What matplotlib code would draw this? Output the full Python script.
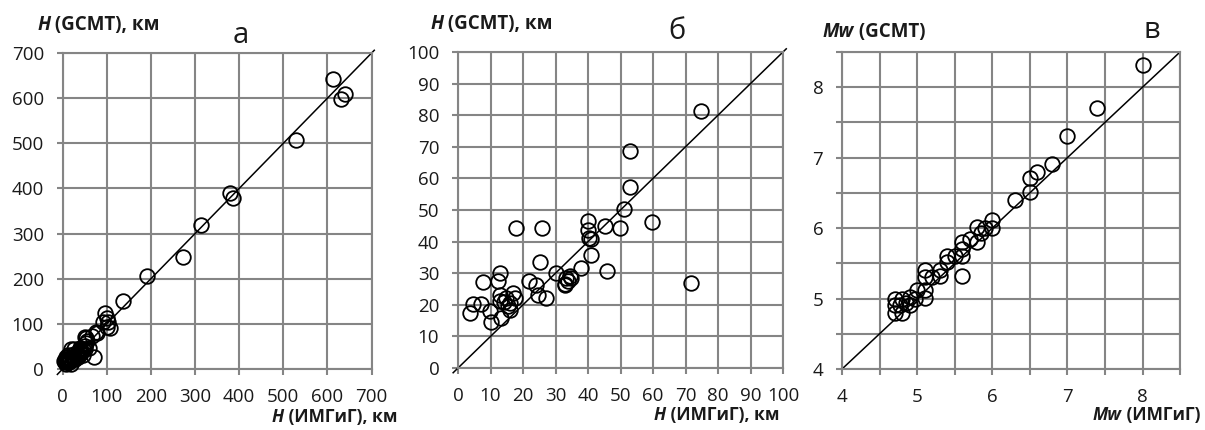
import matplotlib
matplotlib.use('Agg')
import matplotlib.pyplot as plt
from matplotlib.ticker import MultipleLocator

plt.rcParams['font.family'] = ['Open Sans', 'DejaVu Sans']

# ---- data ----
# shallow events, H in km (ИМГиГ, GCMT) - panel б, also part of panel а
h_img_shallow = [3.6, 4.6, 7.2, 7.7, 10.1, 9.7, 12.3, 12.8, 12.8, 12.8, 13.3, 14.9, 15.4,
                 15.9, 16.9, 17.4, 16.0, 14.0, 17.9, 21.8, 24.1, 24.6, 25.1, 25.9, 27.0,
                 30.0, 32.8, 33.3, 33.8, 34.4, 34.9, 33.0, 37.9, 40.0, 40.0, 40.3, 41.0,
                 41.0, 45.1, 45.9, 49.9, 51.0, 52.8, 53.0, 59.8, 71.8, 74.9]
h_gcmt_shallow = [17.4, 20.3, 20.3, 27.1, 14.7, 17.9, 27.6, 30.0, 23.2, 21.1, 15.8, 22.1, 19.5,
                  20.5, 23.7, 22.1, 18.5, 21.0, 44.2, 27.6, 26.3, 23.2, 33.4, 44.2, 22.3,
                  30.2, 26.3, 28.4, 27.4, 29.2, 28.4, 26.5, 31.6, 46.6, 43.7, 41.1, 40.7,
                  35.8, 44.9, 30.8, 44.4, 50.2, 57.4, 68.8, 46.3, 27.0, 81.3]

# deeper events, only in panel а
h_img_deep = [5, 8, 10, 20, 50, 55, 66, 77, 92, 96, 103, 100, 107, 100, 137, 190,
              273, 313, 380, 386, 528, 613, 640, 630]
h_gcmt_deep = [15, 12, 18, 10, 70, 61, 72, 80, 105, 124, 105, 94, 91, 112, 150, 205,
               247, 318, 390, 378, 507, 642, 610, 598]

# magnitudes Mw (ИМГиГ, GCMT) - panel в
mw_img = [8.0, 7.4, 7.0, 6.8, 6.6, 6.5, 6.5, 6.3, 6.0, 6.0, 5.9, 5.8, 5.85, 5.8, 5.7,
          5.6, 5.6, 5.6, 5.5, 5.4, 5.4, 5.6, 5.3, 5.3, 5.2, 5.1, 5.1, 5.1, 5.1, 5.0,
          4.97, 4.9, 4.9, 4.8, 4.8, 4.7, 4.7, 4.7, 4.77, 4.85]
mw_gcmt = [8.31, 7.71, 7.31, 6.91, 6.8, 6.71, 6.51, 6.4, 6.11, 6.0, 6.0, 6.01, 5.93, 5.8, 5.84,
           5.8, 5.71, 5.6, 5.61, 5.6, 5.52, 5.32, 5.4, 5.32, 5.31, 5.4, 5.31, 5.12, 5.01, 5.12,
           5.0, 4.91, 5.02, 5.0, 4.79, 5.0, 4.91, 4.79, 4.91, 4.93]

# y = x reference lines
line_a = [-12, 706]
line_b = [-1.5, 101]
line_c = [4, 8.5]

GRID = '#858585'
TXT = '#1a1a1a'


def frame(ax, lim, major, minor=None):
    ax.set_xlim(lim)
    ax.set_ylim(lim)
    ax.xaxis.set_major_locator(MultipleLocator(major))
    ax.yaxis.set_major_locator(MultipleLocator(major))
    which = 'major'
    if minor:
        ax.xaxis.set_minor_locator(MultipleLocator(minor))
        ax.yaxis.set_minor_locator(MultipleLocator(minor))
        which = 'both'
    ax.grid(True, which=which, color=GRID, linewidth=1.5)
    ax.set_axisbelow(True)
    for s in ax.spines.values():
        s.set_color(GRID)
        s.set_linewidth(1.5)
    ax.tick_params(which='both', direction='out', length=4.5, width=1.5, color=GRID,
                   labelsize=13.5, labelcolor=TXT, pad=9)


def two_part(ax, x, y, ital, rest, right=False, size=13.5):
    kw = dict(fontsize=size, fontweight='bold', color=TXT)
    if not right:
        t = ax.text(x, y, ital, transform=ax.figure.transFigure, style='italic',
                    ha='left', va='center', **kw)
        ax.annotate(rest, xy=(1, 0), xycoords=t, ha='left', va='bottom',
                    annotation_clip=False, **kw)
    else:
        t = ax.text(x, y, rest, transform=ax.figure.transFigure,
                    ha='right', va='center', **kw)
        ax.annotate(ital, xy=(0, 0), xycoords=t, ha='right', va='bottom',
                    style='italic', annotation_clip=False, **kw)


fig = plt.figure(figsize=(12.05, 4.3), dpi=100)
ax_a = fig.add_axes([0.0520, 0.1419, 0.2564, 0.7349])
ax_b = fig.add_axes([0.3801, 0.1442, 0.2697, 0.7349])
ax_c = fig.add_axes([0.6988, 0.1419, 0.2805, 0.7372])

mk = dict(linestyle='none', marker='o', markersize=10.5, markerfacecolor='none',
          markeredgecolor='black', markeredgewidth=1.3, clip_on=False, zorder=3)
ln = dict(color='black', linewidth=1.1, clip_on=False, zorder=2)

# panel а
frame(ax_a, (0, 700), 100)
ax_a.plot(line_a, line_a, **ln)
ax_a.plot(h_img_shallow, h_gcmt_shallow, **mk)
ax_a.plot(h_img_deep, h_gcmt_deep, **mk)
fig.text(0.200, 0.918, 'а', fontsize=21, ha='center', va='center', color=TXT)
two_part(ax_a, 0.031, 0.942, 'H', ' (GCMT), км')
two_part(ax_a, 0.330, 0.030, 'H', ' (ИМГиГ), км', right=True, size=12.5)

# panel б
frame(ax_b, (0, 100), 10)
ax_b.plot(line_b, line_b, **ln)
ax_b.plot(h_img_shallow, h_gcmt_shallow, **mk)
fig.text(0.562, 0.926, 'б', fontsize=21, ha='center', va='center', color=TXT)
two_part(ax_b, 0.357, 0.944, 'H', ' (GCMT), км')
two_part(ax_b, 0.647, 0.034, 'H', ' (ИМГиГ), км', right=True, size=12.5)

# panel в
frame(ax_c, (4, 8.5), 1, 0.5)
ax_c.plot(line_c, line_c, **ln)
ax_c.plot(mw_img, mw_gcmt, **mk)
fig.text(0.956, 0.928, 'в', fontsize=21, ha='center', va='center', color=TXT)
two_part(ax_c, 0.683, 0.926, 'Mw', ' (GCMT)')
two_part(ax_c, 0.996, 0.034, 'Mw', ' (ИМГиГ)', right=True, size=12.5)

fig.savefig('out.png', dpi=100)
